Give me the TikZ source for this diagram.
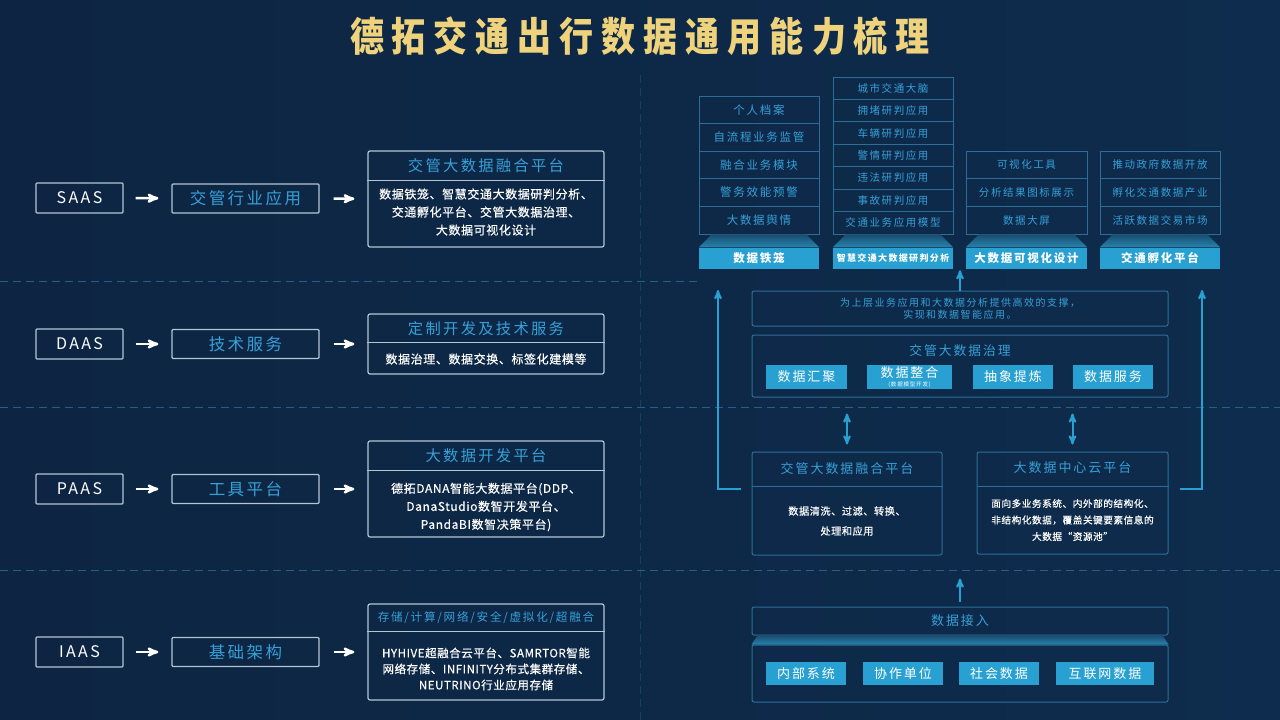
\documentclass[tikz,border=0pt]{standalone}
\usepackage{fontspec}
\setmainfont{Noto Sans CJK SC}
\newfontfamily\widecjk[LetterSpace=15]{Noto Sans CJK SC}
\newfontfamily\bodycjk[LetterSpace=5,FakeBold=0.4]{Noto Sans CJK SC}
\newfontfamily\titlecjk[LetterSpace=20,FakeStretch=0.85]{Noto Sans CJK SC}
\usetikzlibrary{arrows,shapes,positioning,calc}

\definecolor{bgl}{HTML}{0D2542}
\definecolor{bgm}{HTML}{143D64}
\definecolor{bgr}{HTML}{0E2C4D}
\definecolor{gold}{HTML}{EFD27C}
\definecolor{sky}{HTML}{36A0D8}
\definecolor{btn}{HTML}{28A0D1}
\definecolor{rim}{HTML}{2C6E98}
\definecolor{pale}{HTML}{B4C5D6}
\definecolor{plinthtop}{HTML}{1A4C6E}
\definecolor{plinthbot}{HTML}{2684AE}

\tikzstyle{lay} = [rectangle, draw=pale, line width=1.2pt, text=white, rounded corners=1pt,
    minimum width=87pt, minimum height=30pt, inner sep=0pt, font=\fontsize{16}{18}\selectfont\widecjk]
\tikzstyle{app} = [lay, text=sky, minimum width=147pt, minimum height=29pt,
    font=\fontsize{16.5}{19}\selectfont\widecjk]
\tikzstyle{card} = [rectangle, draw=pale, line width=1.2pt, rounded corners=2pt,
    minimum width=236pt, inner sep=0pt]
\tikzstyle{head} = [text=sky, inner sep=0pt, font=\fontsize{15.3}{17}\selectfont\widecjk]
\tikzstyle{body} = [text=white, align=center, inner sep=0pt, font=\fontsize{12}{18}\selectfont\bodycjk]
\tikzstyle{cell} = [rectangle, draw=rim, line width=0.8pt, text=sky, inner sep=0pt,
    minimum width=120pt, font=\fontsize{10.5}{12}\selectfont\widecjk]
\tikzstyle{tag} = [rectangle, fill=btn, text=white, minimum width=120pt, minimum height=21pt,
    inner sep=0pt, font=\fontsize{11.5}{13}\selectfont\widecjk\bfseries]
\tikzstyle{panel} = [rectangle, draw=rim, line width=1pt, rounded corners=2pt,
    minimum width=416pt, inner sep=0pt]
\tikzstyle{chip} = [rectangle, fill=btn, text=white, minimum height=24pt, inner sep=0pt,
    font=\fontsize{13}{15}\selectfont\widecjk]
\tikzstyle{plinth} = [top color=plinthtop, bottom color=plinthbot]
\tikzstyle{wa} = [->, >=stealth', white, line width=2.5pt]
\tikzstyle{ba} = [->, >=stealth', btn, line width=2pt]
\tikzstyle{sep} = [rim, line width=0.8pt, dash pattern=on 8pt off 5pt, opacity=0.8]

\begin{document}
\begin{tikzpicture}[x=1pt,y=-1pt]
  \useasboundingbox (0,0) rectangle (1280,720);
  \shade[left color=bgl, middle color=bgm, right color=bgr] (0,0) rectangle (1280,720);

  % layer separators
  \draw[sep] (0,281) -- (700,281);
  \draw[sep] (0,407) -- (1280,407);
  \draw[sep] (0,570) -- (1280,570);
  \draw[sep, opacity=0.35] (640,75) -- (640,720);

  \node[text=gold, font=\fontsize{40}{44}\selectfont\titlecjk\bfseries] (ttl) at (640,36)
      {德拓交通出行数据通用能力梳理};

  % left: service layers
  \node[lay] (saas) at (79.5,198) {SAAS};
  \node[app] (app1) at (245.5,198.5) {交管行业应用};
  \node[card, minimum height=96pt] (card1) at (486,199) {};
  \draw[pale, line width=1pt] ([yshift=-30pt]card1.north west) -- ([yshift=-30pt]card1.north east);
  \node[head] (h1) at ([yshift=-15pt]card1.north) {交管大数据融合平台};
  \node[body] (b1) at ([yshift=-13pt]card1.center)
      {数据铁笼、智慧交通大数据研判分析、\\交通孵化平台、交管大数据治理、\\大数据可视化设计};

  \node[lay] (daas) at (79.5,344) {DAAS};
  \node[app] (app2) at (245.5,344) {技术服务};
  \node[card, minimum height=60pt] (card2) at (486,344) {};
  \draw[pale, line width=1pt] ([yshift=-29pt]card2.north west) -- ([yshift=-29pt]card2.north east);
  \node[head] (h2) at ([yshift=-15pt]card2.north) {定制开发及技术服务};
  \node[body] (b2) at ([yshift=-15pt]card2.center) {数据治理、数据交换、标签化建模等};

  \node[lay] (paas) at (79.5,489) {PAAS};
  \node[app] (app3) at (245.5,489) {工具平台};
  \node[card, minimum height=96pt] (card3) at (486,489) {};
  \draw[pale, line width=1pt] ([yshift=-30pt]card3.north west) -- ([yshift=-30pt]card3.north east);
  \node[head] (h3) at ([yshift=-15pt]card3.north) {大数据开发平台};
  \node[body] (b3) at ([yshift=-18pt]card3.center)
      {德拓DANA智能大数据平台(DDP、\\DanaStudio数智开发平台、\\PandaBI数智决策平台)};

  \node[lay] (iaas) at (79.5,652) {IAAS};
  \node[app] (app4) at (245.5,652) {基础架构};
  \node[card, minimum height=96pt] (card4) at (486,652) {};
  \draw[pale, line width=1pt] ([yshift=-28pt]card4.north west) -- ([yshift=-28pt]card4.north east);
  \node[head, font=\fontsize{11.6}{13}\selectfont\widecjk] (h4) at ([yshift=-14pt]card4.north)
      {存储/计算/网络/安全/虚拟化/超融合};
  \node[body, font=\fontsize{11.5}{16}\selectfont\bodycjk] (b4) at ([yshift=-17pt]card4.center)
      {HYHIVE超融合云平台、SAMRTOR智能\\网络存储、INFINITY分布式集群存储、\\NEUTRINO行业应用存储};

  \path[wa, shorten <=12pt, shorten >=13pt]
    (saas) edge (app1) (daas) edge (app2) (paas) edge (app3) (iaas) edge (app4);
  \path[wa, shorten <=14pt, shorten >=13pt]
    (app1) edge (card1) (app2) edge (card2) (app3) edge (card3) (app4) edge (card4);

  % right: application stacks
  \foreach \t [count=\i] in {个人档案,自流程业务监管,融合业务模块,警务效能预警,大数据舆情}
    \node[cell, minimum height=27.6pt, font=\fontsize{11.5}{13}\selectfont\widecjk] (a\i) at (759,{82.2+27.6*\i}) {\t};
  \foreach \t [count=\i] in {城市交通大脑,拥堵研判应用,车辆研判应用,警情研判应用,违法研判应用,事故研判应用,交通业务应用模型}
    \node[cell, minimum height=22.43pt] (b\i) at (893,{65.785+22.43*\i}) {\t};
  \foreach \t [count=\i] in {可视化工具,分析结果图标展示,数据大屏}
    \node[cell, minimum height=27.67pt, minimum width=121pt] (c\i) at (1026.5,{137.165+27.67*\i}) {\t};
  \foreach \t [count=\i] in {推动政府数据开放,孵化交通数据产业,活跃数据交易市场}
    \node[cell, minimum height=27.67pt] (d\i) at (1160,{137.165+27.67*\i}) {\t};

  \node[tag] (ta) at (759,258) {数据铁笼};
  \node[tag, font=\fontsize{9}{11}\selectfont\widecjk\bfseries] (tb) at (893,258) {智慧交通大数据研判分析};
  \node[tag, minimum width=121pt] (tc) at (1026.5,258) {大数据可视化设计};
  \node[tag] (td) at (1160,258) {交通孵化平台};

  \shade[plinth] ([xshift=13pt]a5.south west) -- ([xshift=-13pt]a5.south east) -- (ta.north east) -- (ta.north west) -- cycle;
  \shade[plinth] ([xshift=13pt]b7.south west) -- ([xshift=-13pt]b7.south east) -- (tb.north east) -- (tb.north west) -- cycle;
  \shade[plinth] ([xshift=13pt]c3.south west) -- ([xshift=-13pt]c3.south east) -- (tc.north east) -- (tc.north west) -- cycle;
  \shade[plinth] ([xshift=13pt]d3.south west) -- ([xshift=-13pt]d3.south east) -- (td.north east) -- (td.north west) -- cycle;

  % right: governance and platforms
  \node[panel, minimum height=35pt, text=sky, align=center, font=\fontsize{10}{12.5}\selectfont\widecjk]
      (sup) at (960,308.5) {为上层业务应用和大数据分析提供高效的支撑，\\实现和数据智能应用。};
  \node[panel, minimum height=62pt] (gov) at (960,366) {};
  \node[head, font=\fontsize{12.8}{15}\selectfont\widecjk] (govh) at (960,351) {交管大数据治理};
  \node[chip, minimum width=81pt] (g1) at (806.5,377) {数据汇聚};
  \node[chip, minimum width=85pt, align=center] (g2) at (909.5,377)
      {数据整合\\[-6pt]{\fontsize{5.5}{6}\selectfont (数据模型开发)}};
  \node[chip, minimum width=80pt] (g3) at (1013,377) {抽象提炼};
  \node[chip, minimum width=80pt] (g4) at (1113,377) {数据服务};

  \node[panel, minimum width=190pt, minimum height=103pt] (fuse) at (847,503.5) {};
  \draw[rim, line width=1pt] ([yshift=-35pt]fuse.north west) -- ([yshift=-35pt]fuse.north east);
  \node[head, font=\fontsize{13}{15}\selectfont\widecjk] (fuseh) at (847,469) {交管大数据融合平台};
  \node[body, font=\fontsize{10.2}{20}\selectfont\bodycjk] (fuseb) at (847,521) {数据清洗、过滤、转换、\\处理和应用};

  \node[panel, minimum width=191pt, minimum height=102pt] (cloud) at (1072.5,503) {};
  \draw[rim, line width=1pt] ([yshift=-35pt]cloud.north west) -- ([yshift=-35pt]cloud.north east);
  \node[head, font=\fontsize{13}{15}\selectfont\widecjk] (cloudh) at (1072.5,468) {大数据中心云平台};
  \node[body, font=\fontsize{9.7}{16.5}\selectfont\bodycjk] (cloudb) at (1072.5,520)
      {面向多业务系统、内外部的结构化、\\非结构化数据，覆盖关键要素信息的\\大数据“资源池”};

  % right: data access
  \node[panel, minimum height=28pt, text=sky, font=\fontsize{13}{15}\selectfont\widecjk] (acc) at (960,621) {数据接入};
  \node[panel, minimum height=57pt] (src) at (960,673.5) {};
  \shade[plinth] ([xshift=6pt]acc.south west) -- ([xshift=-6pt]acc.south east) -- (src.north east) -- (src.north west) -- cycle;
  \node[chip, minimum width=80pt, minimum height=23pt] (s1) at (806,673.5) {内部系统};
  \node[chip, minimum width=80pt, minimum height=23pt] (s2) at (903,673.5) {协作单位};
  \node[chip, minimum width=80pt, minimum height=23pt] (s3) at (999,673.5) {社会数据};
  \node[chip, minimum width=98pt, minimum height=23pt] (s4) at (1105,673.5) {互联网数据};

  % connectors
  \coordinate (tipl) at (718,290);
  \coordinate (tipr) at (1202,290);
  \draw[ba, shorten <=11pt] ([yshift=14.5pt]fuse.west) -| (tipl);
  \draw[ba, shorten <=11pt] ([yshift=14pt]cloud.east) -| (tipr);
  \draw[ba, shorten >=1.5pt] (sup.north) -- (sup.north |- tb.south);
  \draw[ba, <->, shorten <=16pt, shorten >=7pt] (fuse.north |- gov.south) -- (fuse.north);
  \draw[ba, <->, shorten <=16pt, shorten >=7pt] (cloud.north |- gov.south) -- (cloud.north);
  \draw[ba, shorten <=5pt, shorten >=23pt] (acc.north) -- (acc.north |- fuse.south);
\end{tikzpicture}
\end{document}
